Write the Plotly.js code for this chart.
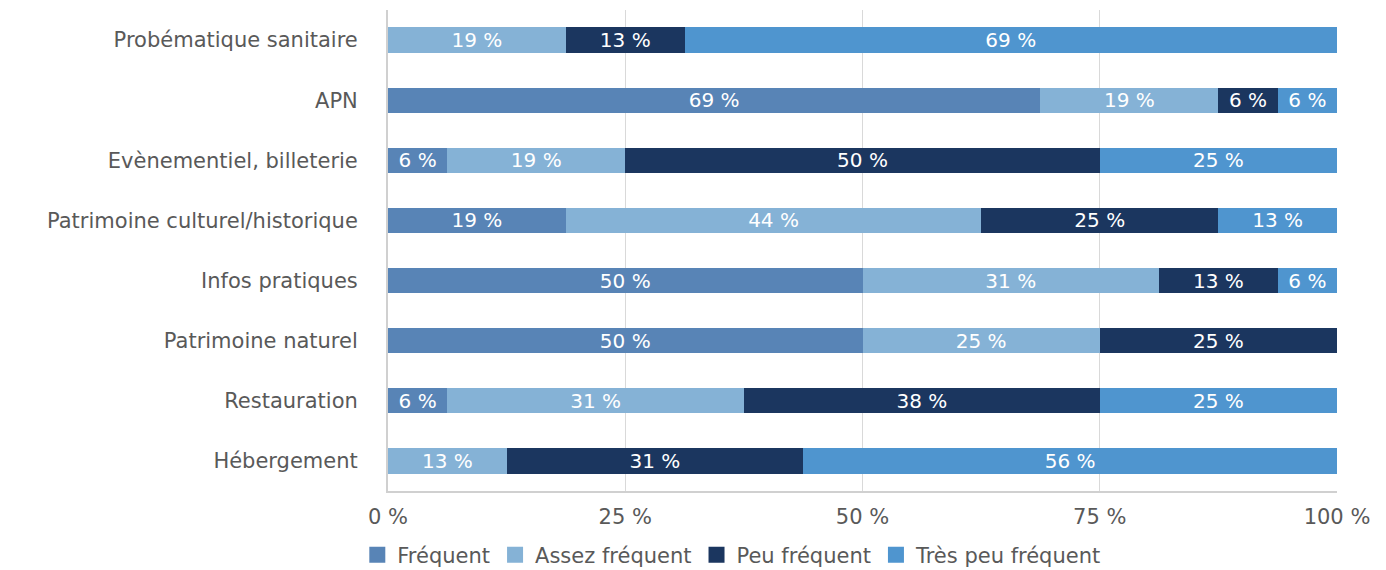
<!DOCTYPE html>
<html>
<head>
<meta charset="utf-8">
<script src="https://cdn.plot.ly/plotly-3.0.1.min.js"></script>
<style>
  html, body { margin: 0; padding: 0; background: #fff; }
  #chart { width: 1386px; height: 570px; }
</style>
</head>
<body>
<div id="chart"></div>
<script>
// categories, bottom to top
let categories = ["Hébergement", "Restauration", "Patrimoine naturel", "Infos pratiques",
  "Patrimoine culturel/historique", "Evènementiel, billeterie", "APN", "Probématique sanitaire"]

// shares in % (16 answers each)
let frequent      = [0, 6.25, 50, 50, 18.75, 6.25, 68.75, 0]
let assezFrequent = [12.5, 31.25, 25, 31.25, 43.75, 18.75, 18.75, 18.75]
let peuFrequent   = [31.25, 37.5, 25, 12.5, 25, 50, 6.25, 12.5]
let tresPeu       = [56.25, 25, 0, 6.25, 12.5, 25, 6.25, 68.75]

let seriesNames = ["Fréquent", "Assez fréquent", "Peu fréquent", "Très peu fréquent"]
let seriesValues = [frequent, assezFrequent, peuFrequent, tresPeu]
let colors = ["#5884b6", "#85b2d6", "#1b365f", "#4f95cf"]

let font = "DejaVu Sans, sans-serif"

let data = seriesNames.map((name, i) => ({
  type: "bar",
  orientation: "h",
  name: name,
  y: categories,
  x: seriesValues[i],
  marker: {color: colors[i]},
  text: seriesValues[i].map(v => v > 0 ? v.toFixed(0) + " %" : ""),
  texttemplate: "%{text}",
  textposition: "inside",
  insidetextanchor: "middle",
  textangle: 0,
  constraintext: "none",
  insidetextfont: {color: "#ffffff", size: 20, family: font},
  showlegend: false
}))

// bigger square swatches for the legend
seriesNames.forEach((name, i) => {
  data.push({
    type: "scatter",
    mode: "markers",
    name: name,
    x: [null],
    y: [null],
    marker: {symbol: "square", size: 16, color: colors[i]},
    showlegend: true
  })
})

let layout = {
  barmode: "stack",
  bargap: 0.58,
  width: 1386,
  height: 570,
  margin: {l: 388, r: 49, t: 10, b: 79},
  paper_bgcolor: "#ffffff",
  plot_bgcolor: "#ffffff",
  font: {family: font, color: "#595959", size: 21},
  xaxis: {
    range: [0, 100],
    tickvals: [0, 25, 50, 75, 100],
    ticktext: ["0 %", "25 %", "50 %", "75 %", "100 %"],
    showgrid: true,
    gridcolor: "#d9d9d9",
    gridwidth: 1,
    zeroline: false,
    showline: true,
    linecolor: "#d0d0d0",
    linewidth: 2,
    ticks: "",
    ticklabelstandoff: 6,
    tickfont: {size: 21, color: "#595959"}
  },
  yaxis: {
    type: "category",
    showline: true,
    linecolor: "#d0d0d0",
    linewidth: 2,
    showgrid: false,
    ticks: "",
    ticklabelstandoff: 24,
    tickfont: {size: 21, color: "#595959"}
  },
  showlegend: true,
  legend: {
    orientation: "h",
    xref: "container",
    yref: "container",
    x: 0.528,
    xanchor: "center",
    y: 0.026,
    yanchor: "middle",
    font: {size: 21, color: "#595959"},
    traceorder: "normal",
    itemwidth: 30
  }
}

Plotly.newPlot("chart", data, layout, {displayModeBar: false, staticPlot: true})
</script>
</body>
</html>
